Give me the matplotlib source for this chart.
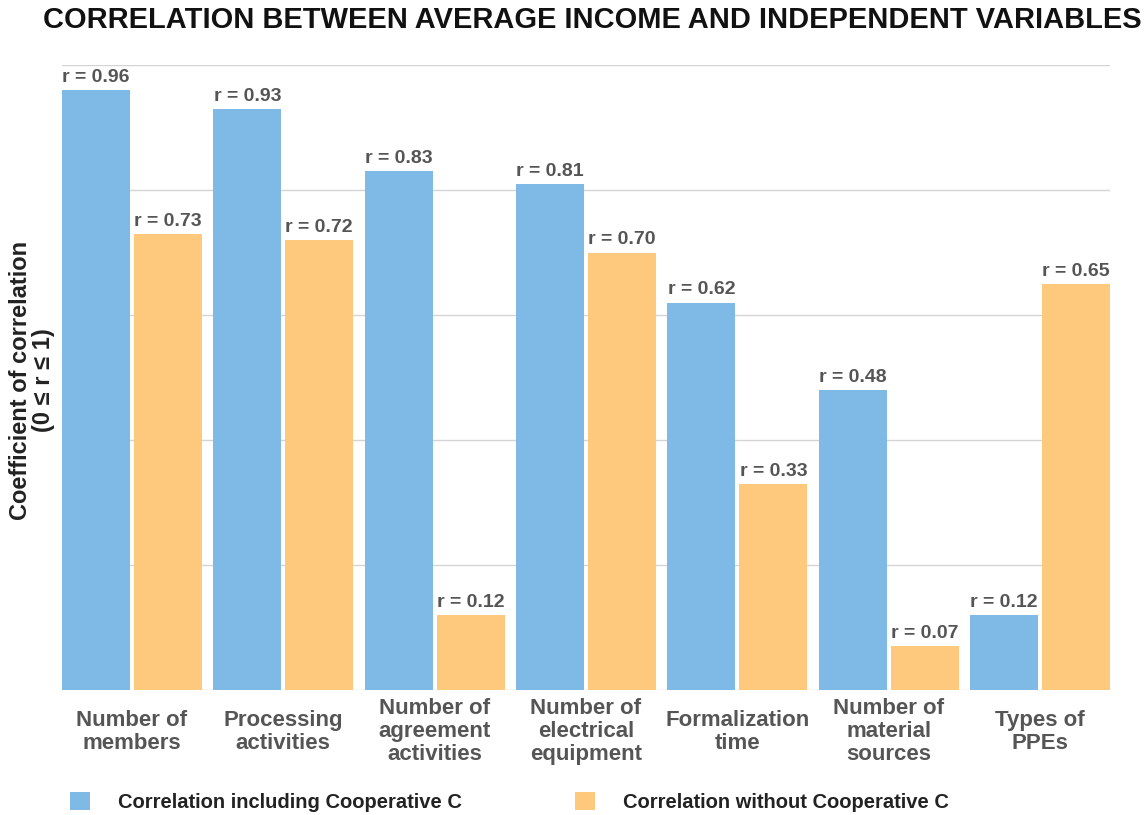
import numpy as np
import matplotlib
matplotlib.use("Agg")
import matplotlib.pyplot as plt

categories = [
    "Number of\nmembers",
    "Processing\nactivities",
    "Number of\nagreement\nactivities",
    "Number of\nelectrical\nequipment",
    "Formalization\ntime",
    "Number of\nmaterial\nsources",
    "Types of\nPPEs",
]
with_c = [0.96, 0.93, 0.83, 0.81, 0.62, 0.48, 0.12]
without_c = [0.73, 0.72, 0.12, 0.70, 0.33, 0.07, 0.65]

blue = "#7fb9e6"
orange = "#fec97d"
label_gray = "#555555"

plt.rcParams["font.family"] = ["Liberation Sans", "DejaVu Sans"]

fig = plt.figure(figsize=(11.47, 8.15), dpi=100)
ax = fig.add_axes([62 / 1147, 125 / 815, 1048 / 1147, 625 / 815])

x = np.arange(len(categories))
w = 0.449
off = 0.2376

b1 = ax.bar(x - off, with_c, w, color=blue, label="Correlation including Cooperative C", zorder=2)
b2 = ax.bar(x + off, without_c, w, color=orange, label="Correlation without Cooperative C", zorder=2)

for bars, vals in [(b1, with_c), (b2, without_c)]:
    for rect, v in zip(bars, vals):
        ax.annotate(f"r = {v:.2f}", (rect.get_x() + rect.get_width() / 2, v),
                    xytext=(0, 3), textcoords="offset points",
                    ha="center", va="bottom", fontsize=14, fontweight="bold",
                    color=label_gray)

ax.set_xlim(-0.462, len(categories) - 1 + 0.462)
ax.set_ylim(0, 1)
ax.set_yticks(np.arange(0, 1.01, 0.2))
ax.set_yticklabels([])
ax.tick_params(axis="y", length=0)
ax.grid(axis="y", color="#d4d4d4", linewidth=1, zorder=0)
for s in ax.spines.values():
    s.set_visible(False)

ax.set_xticks(x)
ax.set_xticklabels(categories, fontsize=16, fontweight="bold", color=label_gray,
                   linespacing=1.12)
ax.tick_params(axis="x", length=0, pad=30)
for t in ax.get_xticklabels():
    t.set_va("center")

# y axis title
fig.text(32 / 1147, 1 - 380 / 815, "Coefficient of correlation\n(0 \u2264 r \u2264 1)",
         rotation=90, ha="center", va="center", fontsize=17, fontweight="bold",
         color="#222222", linespacing=1.05)

# title, sized to span the same width as the original
title = fig.text((45 + 1140) / 2 / 1147, 1 - 20 / 815,
                 "CORRELATION BETWEEN AVERAGE INCOME AND INDEPENDENT VARIABLES",
                 ha="center", va="center", fontsize=20, fontweight="bold", color="#111111")
r = fig.canvas.get_renderer()
tw = title.get_window_extent(renderer=r).width
title.set_fontsize(20 * 1095 / tw)

fig.legend(handles=[b1, b2], loc="center left", bbox_to_anchor=(70 / 1147, 13 / 815),
           ncol=2, frameon=False, prop={"weight": "bold", "size": 14.5},
           handlelength=1.0, handleheight=1.0, handletextpad=1.39, columnspacing=5.6,
           borderpad=0, borderaxespad=0)
for t in fig.legends[0].get_texts():
    t.set_color("#222222")

fig.savefig("out.png", dpi=100)
